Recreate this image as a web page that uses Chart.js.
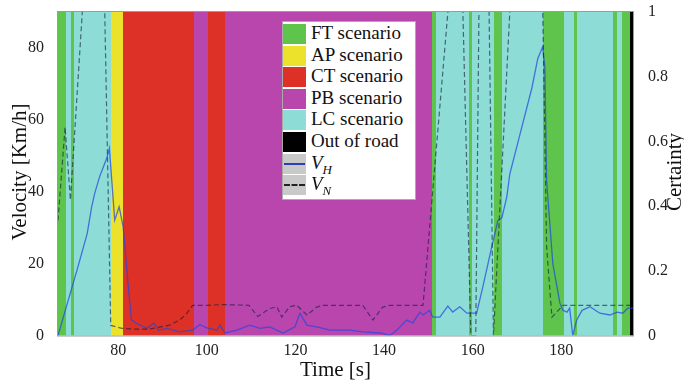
<!DOCTYPE html>
<html>
<head>
<meta charset="utf-8">
<script src="https://cdn.jsdelivr.net/npm/chart.js@4.4.0/dist/chart.umd.min.js"></script>
<style>
    html, body { margin: 0; padding: 0; background: #fff; overflow: hidden; }
    #wrap { position: relative; width: 684px; height: 383px; }
    #chart { position: absolute; left: 0; top: 0; }
    .title { position: absolute; font-family: "Liberation Serif", serif; font-size: 21px; color: #111; white-space: nowrap; }
    .rot { width: 240px; height: 24px; line-height: 24px; text-align: center; transform: rotate(-90deg); }
    #legend { position: absolute; left: 282px; top: 21px; width: 132px; height: 177px; background: #fff; border: 1px solid #aaa;
        font-family: "Liberation Serif", serif; font-size: 19px; color: #111; }
    .row { position: absolute; left: 0; height: 20px; width: 132px; }
    .sw { position: absolute; left: 0; top: 0; width: 23px; height: 20px; }
    .lbl { position: absolute; left: 28px; top: -2px; line-height: 22px; }
    .ln { position: absolute; left: 1px; right: 1px; top: 9px; height: 0; }
</style>
</head>
<body>
<div id="wrap">
    <canvas id="chart" width="684" height="383"></canvas>
    <div class="title rot" style="left:-101px; top:160px;">Velocity [Km/h]</div>
    <div class="title rot" style="left:554px; top:160px;">Certainty</div>
    <div class="title" style="left:300px; top:357px;">Time [s]</div>
    <div id="legend"></div>
</div>
<script>
// time axis ticks and value axis ticks
const xTicks = [80, 100, 120, 140, 160, 180];
const yTicks = [0, 20, 40, 60, 80];
const certTicks = [0, 0.2, 0.4, 0.6, 0.8, 1];

// scenario bands: edges in seconds, one kind per interval
const bandEdges = [66.4, 68.2, 69.3, 70.1, 78.3, 81.1, 97.1, 100.2, 104.0, 150.9, 151.8, 159.1, 159.8,
    164.8, 166.7, 175.9, 180.6, 182.8, 183.6, 191.7, 192.6, 193.7, 195.5, 196.2];
const bandKinds = ['FT', 'LC', 'FT', 'LC', 'AP', 'CT', 'PB', 'CT', 'PB', 'FT', 'LC', 'FT', 'LC',
    'FT', 'LC', 'FT', 'LC', 'FT', 'LC', 'FT', 'LC', 'FT', 'OUT'];

// V_H (host velocity)
const vhTime = [66.4, 70.9, 73.0, 74.0, 74.7, 75.8, 77.4, 78.0, 79.2, 80.2, 81.1, 82.2, 83.0, 84.4, 86.5, 88.0,
    89.1, 91.0, 93.9, 96.8, 98.4, 100, 102.3, 102.9, 104.1, 106.8, 109.7, 112.0, 114.2, 117.2, 119.9, 121.0,
    122.6, 124.8, 127.8, 132.3, 135.2, 139.1, 141.3, 142.9, 143.6, 145.1, 146.5, 148.1, 148.8, 150.3, 151.0,
    152.6, 154.4, 155.5, 157.1, 158.7, 160.0, 160.9, 162.3, 164.3, 165.7, 166.6, 167.7, 168.4, 170.7, 173.4,
    174.7, 175.8, 176.3, 176.7, 178.1, 179.7, 180.4, 181.3, 181.9, 182.6, 183.5, 184.7, 186.5, 188.7, 191.0,
    192.6, 193.9, 195.0, 196.2];
const vhSpeed = [0, 19.1, 28.4, 35.8, 39.6, 44.2, 49.3, 52.1, 32.1, 35.8, 30.3, 14.5, 4.3, 3.2, 2.0, 3.5,
    1.5, 2.0, 1.0, 1.5, 3.0, 2.1, 1.5, 2.9, 0.7, 1.5, 2.9, 2.0, 2.4, 0.7, 2.4, 6.2,
    2.9, 2.4, 1.5, 1.5, 1.0, 0.7, 0, 1.5, 2.4, 4.3, 3.5, 6.5, 5.7, 7.0, 5.1,
    5.1, 8.2, 6.5, 8.0, 6.2, 6.2, 6.2, 13.5, 24.6, 32, 32.7, 38.5, 45, 56, 69,
    77, 80.3, 74.7, 43, 20, 9, 7, 6.5, 7.6, 0, 4.3, 7, 8, 6.2, 5.7,
    6.5, 6.2, 7.6, 7.6];

// V_N (neighbour velocity), runs off the top where no neighbour
const vnTime = [66.4, 68.0, 69.2, 72.4, 76.8, 78.3, 80.8, 83.3, 87.1, 91.6, 93.9, 95.5, 96.8, 100, 103.6,
    109.5, 111.5, 114.2, 115.8, 116.9, 118.7, 120.3, 122.6, 124.8, 126.2, 135.2, 137.5, 139.7, 141.3, 148.8,
    155.1, 157.6, 159.6, 160.7, 161.5, 163.6, 164.7, 168.8, 175.7, 176.7, 177.9, 180.4, 195.5, 196.2];
const vnSpeed = [32, 58, 37.7, 100, 100, 2.8, 2.0, 1.8, 1.8, 2.9, 4.3, 6.2, 8.4, 8.4, 8.6,
    8.4, 5.3, 7.5, 8.0, 5.1, 8.0, 8.4, 5.7, 7.9, 8.4, 8.4, 4.3, 7.9, 8.4, 8.4,
    100, 100, 0, 0, 100, 100, 0, 100, 100, 24.6, 5.1, 8.4, 8.4, 8.4];

const scenarioColors = {
    FT: '#5ec44c',
    AP: '#ece22c',
    CT: '#dd3026',
    PB: '#b946ad',
    LC: '#8ddcd5',
    OUT: '#000000'
};
const legendItems = [
    ['FT', 'FT scenario'], ['AP', 'AP scenario'], ['CT', 'CT scenario'],
    ['PB', 'PB scenario'], ['LC', 'LC scenario'], ['OUT', 'Out of road']
];

const buildLegend = () => {
    const box = document.getElementById('legend');
    let html = '';
    legendItems.forEach((it, i) => {
        html += '<div class="row" style="top:' + (2 + i * 21.6) + 'px"><div class="sw" style="background:' +
            scenarioColors[it[0]] + '"></div><span class="lbl">' + it[1] + '</span></div>';
    });
    html += '<div class="row" style="top:' + (2 + 6 * 21.6) + 'px"><div class="sw" style="background:#c9c9c9">' +
        '<div class="ln" style="border-top:2px solid #2b3fb0"></div></div>' +
        '<span class="lbl"><i>V</i><sub style="font-size:13px"><i>H</i></sub></span></div>';
    html += '<div class="row" style="top:' + (2 + 7 * 21.6) + 'px"><div class="sw" style="background:#c9c9c9">' +
        '<div class="ln" style="border-top:2px dashed #222"></div></div>' +
        '<span class="lbl"><i>V</i><sub style="font-size:13px"><i>N</i></sub></span></div>';
    box.innerHTML = html;
}

const bandPlugin = {
    id: 'bands',
    beforeDatasetsDraw(chart) {
        const {ctx, chartArea, scales} = chart;
        ctx.save();
        for (let i = 0; i < bandKinds.length; i++) {
            const x0 = Math.round(scales.x.getPixelForValue(bandEdges[i]));
            const x1 = Math.round(scales.x.getPixelForValue(bandEdges[i + 1]));
            ctx.fillStyle = scenarioColors[bandKinds[i]];
            ctx.fillRect(x0, chartArea.top, x1 - x0, chartArea.bottom - chartArea.top);
        }
        ctx.restore();
    },
    afterDatasetsDraw(chart) {
        const {ctx, chartArea} = chart;
        ctx.save();
        ctx.strokeStyle = '#9a9a9a';
        ctx.lineWidth = 1;
        ctx.strokeRect(chartArea.left - 0.5, chartArea.top - 0.5,
            chartArea.right - chartArea.left + 1, chartArea.bottom - chartArea.top + 1);
        ctx.restore();
    }
};

// keep the plot box fixed, labels may overflow into the margins
const noPad = (s) => {
    s.paddingTop = 0;
    s.paddingBottom = 0;
    s.paddingLeft = 0;
    s.paddingRight = 0;
}

const drawChart = () => {
    Chart.defaults.font.family = '"Liberation Serif", serif';
    Chart.defaults.font.size = 16;
    Chart.defaults.color = '#222';
    new Chart('chart', {
        type: 'line',
        data: {
            datasets: [{
                label: 'V_N',
                data: vnTime.map((t, i) => ({x: t, y: vnSpeed[i]})),
                yAxisID: 'y',
                borderColor: 'rgba(20,30,60,0.62)',
                borderWidth: 1.2,
                borderDash: [5, 3],
                pointRadius: 0,
                tension: 0
            }, {
                label: 'V_H',
                data: vhTime.map((t, i) => ({x: t, y: vhSpeed[i]})),
                yAxisID: 'y',
                borderColor: 'rgba(35,70,225,0.72)',
                borderWidth: 1.3,
                pointRadius: 0,
                tension: 0
            }]
        },
        options: {
            responsive: false,
            animation: false,
            layout: {padding: {top: 12, left: 0, right: 0, bottom: 0}},
            plugins: {legend: {display: false}, tooltip: {enabled: false}},
            scales: {
                x: {
                    type: 'linear',
                    min: 66.4,
                    max: 196.2,
                    grid: {display: false},
                    border: {display: false},
                    ticks: {padding: -2},
                    afterBuildTicks: (s) => { s.ticks = xTicks.map(v => ({value: v})); },
                    afterFit: (s) => { s.height = 47.5; noPad(s); }
                },
                y: {
                    position: 'left',
                    min: 0,
                    max: 90,
                    grid: {display: false},
                    border: {display: false},
                    ticks: {padding: 6},
                    afterBuildTicks: (s) => { s.ticks = yTicks.map(v => ({value: v})); },
                    afterFit: (s) => { s.width = 58; noPad(s); }
                },
                y1: {
                    position: 'right',
                    min: 0,
                    max: 1,
                    grid: {display: false},
                    border: {display: false},
                    ticks: {padding: 7, callback: (v) => String(v)},
                    afterBuildTicks: (s) => { s.ticks = certTicks.map(v => ({value: v})); },
                    afterFit: (s) => { s.width = 51; noPad(s); }
                }
            }
        },
        plugins: [bandPlugin]
    });
}

buildLegend();
drawChart();
</script>
</body>
</html>
